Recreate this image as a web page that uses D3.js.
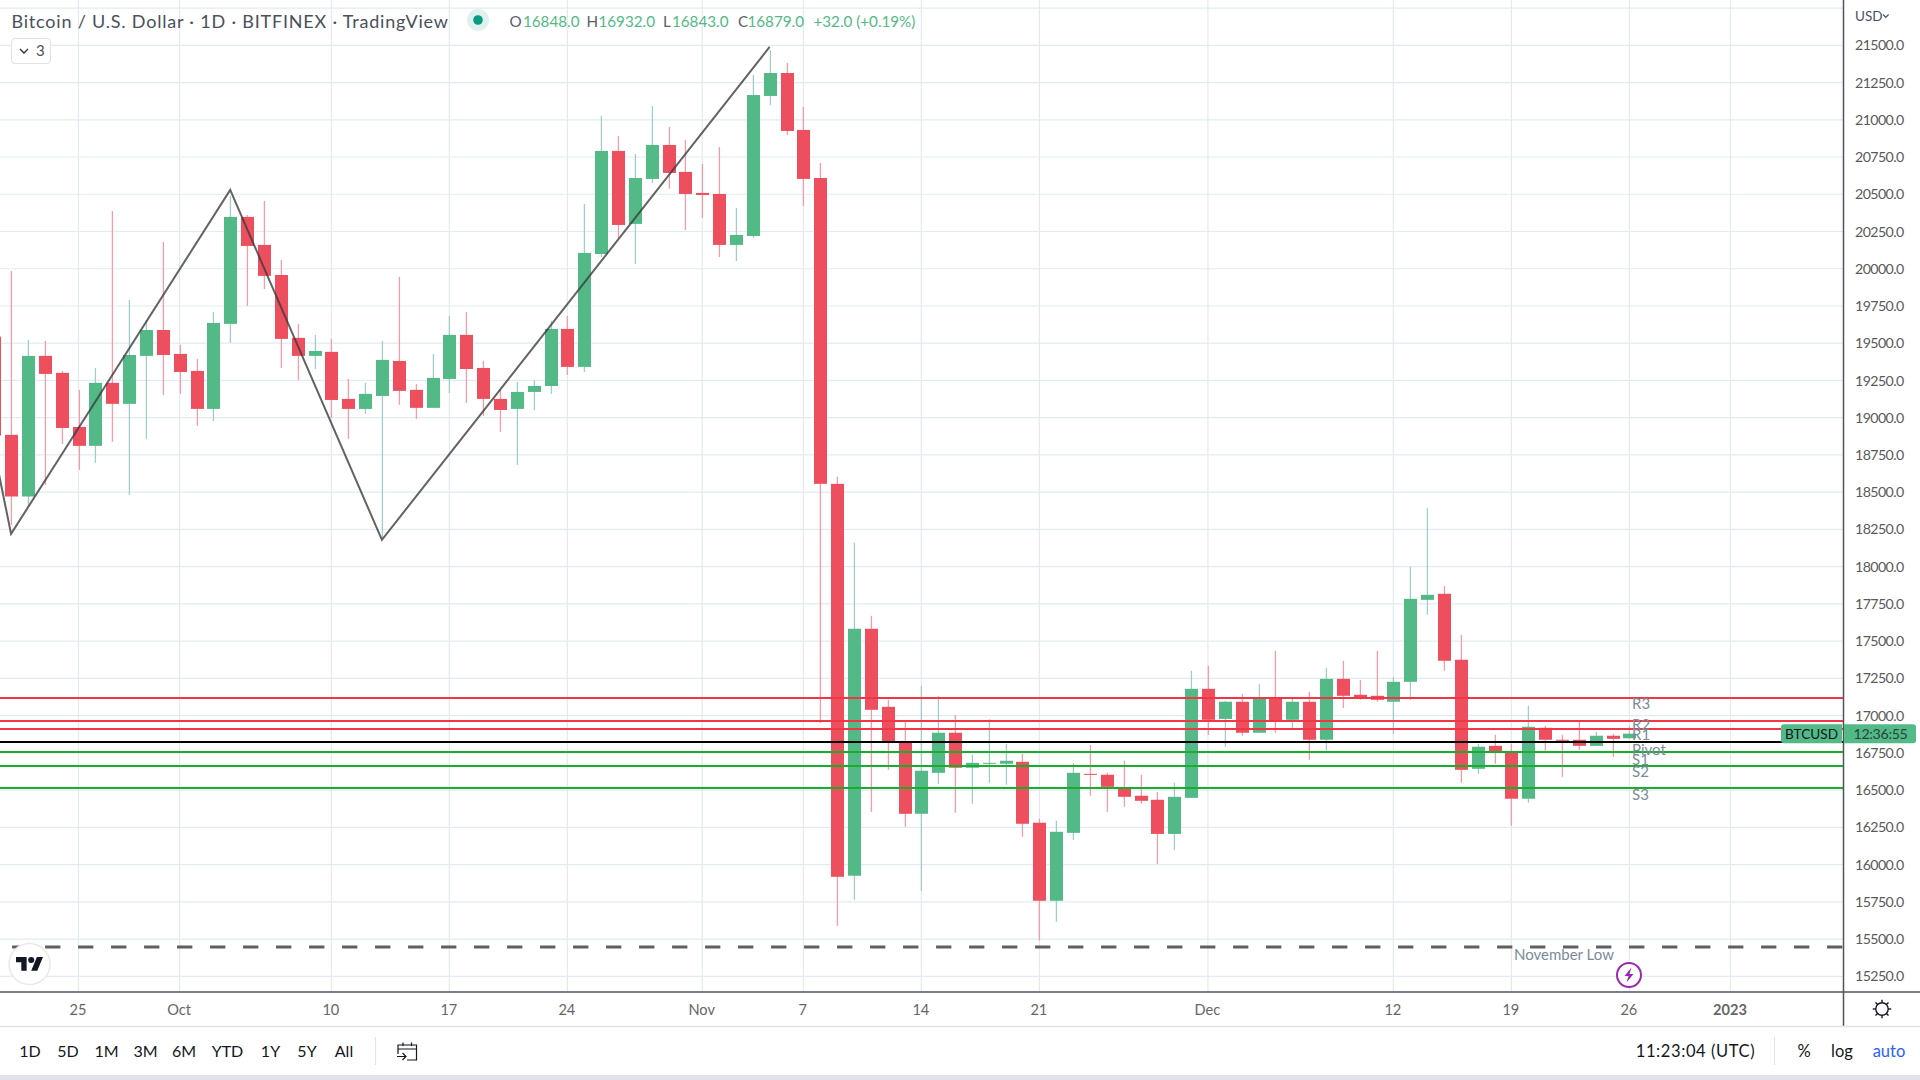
<!DOCTYPE html>
<html>
<head>
<meta charset="utf-8">
<title>BTCUSD daily</title>
<script src="https://cdnjs.cloudflare.com/ajax/libs/d3/7.8.5/d3.min.js"></script>
<style>
  html, body { margin: 0; padding: 0; background: #fff; overflow: hidden; }
  svg { display: block; }
  text { font-family: Lato, "Open Sans", sans-serif; }
</style>
</head>
<body>
<svg id="chart" width="1920" height="1080"></svg>
<script>
// Daily BTC/USD candles, one entry per day starting at firstDay
const firstDay = "2022-09-20";
const opens = [19544,18885,18471,19415,19301,18938,18811,19234,19093,19415,19589,19428,19314,19059,19630,20348,20160,19958,19536,19415,19442,19126,19059,19146,19381,19187,19066,19260,19556,19334,19126,19059,19173,19213,19596,19341,20099,20791,20301,20603,20831,20650,20509,20502,20160,20220,21160,21314,20932,20609,18556,15925,17583,17059,16817,16341,16616,16885,16650,16677,16677,16690,16281,15757,16213,16609,16603,16515,16462,16435,16206,16448,17180,16978,17093,16885,17120,16972,17093,16838,17247,17140,17133,17093,17227,17777,17818,17375,16643,16797,16757,16442,16918,16838,16838,16797,16865,16848];
const highs = [19544,19985,19522,19515,19314,19187,19334,20388,19791,19656,20180,19489,19395,19710,20489,20361,20455,20059,19630,19556,19529,19260,19234,19515,19945,19227,19428,19683,19710,19381,19187,19240,19250,19650,19683,20435,21025,20891,20770,21093,20952,20864,20703,20817,20408,21301,21468,21381,21086,20710,18603,18160,17670,17106,16965,17200,17133,17005,16737,16978,16811,16744,16307,16294,16683,16804,16616,16697,16603,16488,16549,17301,17334,17099,17146,17213,17435,17113,17160,17321,17368,17240,17435,17260,17999,18395,17871,17542,16811,16871,16811,17066,16931,16871,16965,16891,16878,16932];
const lows = [18853,18280,18408,18549,18824,18650,18697,18838,18482,18858,19153,19160,18945,18978,19502,19750,19864,19334,19254,19327,18999,18858,19025,18193,19086,18992,19066,19166,19099,19012,18905,18683,19052,19160,19287,19307,20079,20207,20032,20576,20536,20260,20341,20079,20052,20207,21099,20898,20421,16951,15589,15764,16354,16636,16254,15824,16542,16348,16408,16549,16536,16186,15489,15616,16166,16462,16354,16388,16408,16005,16099,16448,16871,16791,16865,16885,16885,16911,16703,16764,17052,17106,17093,16878,17106,17677,17301,16549,16609,16677,16260,16415,16764,16589,16770,16797,16723,16843];
const closes = [18880,18471,19415,19294,18931,18811,19234,19093,19421,19589,19421,19307,19059,19636,20348,20153,19952,19529,19415,19448,19119,19059,19160,19388,19180,19066,19267,19556,19327,19126,19052,19173,19213,19596,19341,20106,20791,20294,20609,20831,20643,20502,20495,20160,20227,21166,21314,20925,20603,18556,15918,17583,17039,16824,16341,16630,16885,16650,16683,16683,16697,16274,15757,16220,16616,16603,16522,16455,16428,16206,16455,17180,16972,17093,16885,17113,16965,17093,16838,17247,17133,17120,17106,17227,17784,17811,17368,16636,16791,16757,16442,16925,16838,16831,16797,16865,16844,16879];

// Floor pivot levels and their captions
const pivotNames = ["R3","R2","R1","Pivot","S1","S2","S3"];
const pivotLevels = [17121,16967,16907,16822,16759,16665,16517];

// Zigzag drawn over the candles
const zigzagDays = ["2022-09-20","2022-09-21","2022-10-04","2022-10-13","2022-11-05"];
const zigzagPrices = [18777,18220,20529,18180,21489];

const novemberLow = 15448;
const novemberLowCaption = "November Low";

const priceTicks = [15250,15500,15750,16000,16250,16500,16750,17000,17250,17500,17750,18000,18250,18500,18750,19000,19250,19500,19750,20000,20250,20500,20750,21000,21250,21500];
const gridPrices = priceTicks.concat([21750]);
const timeTickDays = ["2022-09-25","2022-10-01","2022-10-10","2022-10-17","2022-10-24","2022-11-01","2022-11-07","2022-11-14","2022-11-21","2022-12-01","2022-12-12","2022-12-19","2022-12-26","2023-01-01"];
const timeTickLabels = ["25","Oct","10","17","24","Nov","7","14","21","Dec","12","19","26","2023"];

const rangeButtons = ["1D","5D","1M","3M","6M","YTD","1Y","5Y","All"];
const legendValues = ["16848.0","16932.0","16843.0","16879.0"];
const legendLetters = ["O","H","L","C"];
const legendChange = "+32.0 (+0.19%)";
const titleText = "Bitcoin / U.S. Dollar \u00b7 1D \u00b7 BITFINEX \u00b7 TradingView";

const UP = "#53b987", DOWN = "#ed4f5f", UP_WICK = "#a0cdcc", DOWN_WICK = "#f59ca8";
const GRID = "#e2ebf1", AXIS = "#50535e", SEPARATOR = "#e0e3eb", MUTED = "#7b8b9a", INK = "#131722";
const paneRight = 1843, paneBottom = 992;

const day = s => new Date(s + "T00:00:00Z");
const x = d3.scaleUtc().domain([day("2022-09-25"), day("2023-01-01")]).range([78.5, 1730.5]);
const y = d3.scaleLinear().domain([15250, 21500]).range([976.3, 45.3]);

const candleDays = d3.utcDay.range(day(firstDay), d3.utcDay.offset(day(firstDay), opens.length));
const candles = candleDays.map((d, i) => ({ d, o: opens[i], h: highs[i], l: lows[i], c: closes[i], up: closes[i] >= opens[i] }));

const svg = d3.select("#chart");
svg.append("rect").attr("width", 1920).attr("height", 1080).attr("fill", "#fff");
svg.append("defs").append("clipPath").attr("id", "pane")
  .append("rect").attr("width", paneRight).attr("height", paneBottom);

const pane = svg.append("g").attr("clip-path", "url(#pane)");

// Grid
pane.append("g").selectAll("line").data(gridPrices).join("line")
  .attr("x1", 0).attr("x2", paneRight)
  .attr("y1", d => y(d)).attr("y2", d => y(d))
  .attr("stroke", GRID).attr("stroke-width", 1.2);
pane.append("g").selectAll("line").data(timeTickDays).join("line")
  .attr("x1", d => x(day(d))).attr("x2", d => x(day(d)))
  .attr("y1", 0).attr("y2", paneBottom)
  .attr("stroke", GRID).attr("stroke-width", 1.2);

// Candles
const cx = d => Math.round(x(d));
pane.append("g").selectAll("line").data(candles).join("line")
  .attr("x1", d => cx(d.d) + 0.4).attr("x2", d => cx(d.d) + 0.4)
  .attr("y1", d => y(d.h)).attr("y2", d => y(d.l))
  .attr("stroke", d => d.up ? UP_WICK : DOWN_WICK).attr("stroke-width", 1.3);
pane.append("g").selectAll("rect").data(candles).join("rect")
  .attr("x", d => cx(d.d) - 6).attr("width", 13)
  .attr("y", d => y(Math.max(d.o, d.c)))
  .attr("height", d => Math.max(1, Math.abs(y(d.o) - y(d.c))))
  .attr("fill", d => d.up ? UP : DOWN);

// Zigzag
pane.append("path")
  .datum(zigzagDays.map((d, i) => [x(day(d)), y(zigzagPrices[i])]))
  .attr("d", d3.line())
  .attr("fill", "none").attr("stroke", "#3c3c3c").attr("stroke-opacity", 0.8).attr("stroke-width", 2);

// Pivot levels, snapped to whole pixels so the rules stay crisp
const pivotColor = n => n[0] === "R" ? "#f23645" : n[0] === "S" ? "#1aad2c" : "#000";
const levelY = i => Math.round(y(pivotLevels[i]));
pane.append("g").selectAll("line").data(pivotNames).join("line")
  .attr("x1", 0).attr("x2", paneRight)
  .attr("y1", (n, i) => levelY(i)).attr("y2", (n, i) => levelY(i))
  .attr("stroke", pivotColor).attr("stroke-width", 2.2);
const captionDrop = [6, 4, 5, 7, 8, 6, 7];
pane.append("g").selectAll("text").data(pivotNames).join("text")
  .attr("x", 1632).attr("y", (n, i) => y(pivotLevels[i]) + captionDrop[i])
  .attr("dy", "0.36em").attr("font-size", 15).attr("fill", MUTED).text(n => n);

// November low
pane.append("line")
  .attr("x1", x(day("2022-09-21")) + 1).attr("x2", paneRight)
  .attr("y1", Math.round(y(novemberLow))).attr("y2", Math.round(y(novemberLow)))
  .attr("stroke", "#5f5f5f").attr("stroke-width", 3).attr("stroke-dasharray", "15.3 17.7");
pane.append("text").attr("x", 1514).attr("y", y(novemberLow) + 8).attr("dy", "0.36em")
  .attr("font-size", 15).attr("fill", MUTED).text(novemberLowCaption);

// Logo badge
const logo = svg.append("g").attr("transform", "translate(29.5,964)");
logo.append("circle").attr("r", 20.5).attr("fill", "#fff").attr("stroke", "#e9e9e9").attr("stroke-width", 1.5);
const logoMark = logo.append("g").attr("transform", "translate(-13.5,-10) scale(0.76)").attr("fill", INK);
logoMark.append("path").attr("d", "M14 22H7V11H0V4h14v18zM28 22h-8l7.5-18h8L28 22z");
logoMark.append("circle").attr("cx", 20).attr("cy", 8).attr("r", 4);

// Lightning marker
const bolt = svg.append("g").attr("transform", "translate(1629,975)");
bolt.append("circle").attr("r", 12).attr("fill", "#fff").attr("stroke", "#9c27b0").attr("stroke-width", 2);
bolt.append("path").attr("d", "M2.5 -7.5 L-4.5 1 H-0.5 L-2.5 7.5 L4.5 -1 H0.5 Z").attr("fill", "#9c27b0");

// Scale frames
svg.append("line").attr("x1", 0).attr("x2", 1920).attr("y1", paneBottom).attr("y2", paneBottom).attr("stroke", AXIS).attr("stroke-width", 1.5);
svg.append("line").attr("x1", paneRight + 0.5).attr("x2", paneRight + 0.5).attr("y1", 0).attr("y2", 1026).attr("stroke", AXIS).attr("stroke-width", 1.5);
svg.append("line").attr("x1", 0).attr("x2", 1920).attr("y1", 1026.5).attr("y2", 1026.5).attr("stroke", SEPARATOR).attr("stroke-width", 1.5);
svg.append("rect").attr("y", 1075).attr("width", 1920).attr("height", 5).attr("fill", SEPARATOR);

// Price axis
const priceAxis = d3.axisRight(y).tickValues(priceTicks).tickSize(0).tickPadding(0).tickFormat(d3.format(".1f"));
const priceG = svg.append("g").attr("transform", "translate(1855,0)").call(priceAxis);
priceG.select(".domain").remove();
priceG.selectAll("text").attr("font-size", 14.2).attr("letter-spacing", -0.6).attr("fill", "#5a5a5a").style("font-family", "Lato");

// Time axis
const timeAxis = d3.axisBottom(x).tickValues(timeTickDays.map(day)).tickSize(0).tickPadding(0)
  .tickFormat((d, i) => timeTickLabels[i]);
const timeG = svg.append("g").attr("transform", "translate(-1,1004.5)").call(timeAxis);
timeG.select(".domain").remove();
timeG.selectAll("text").attr("font-size", 14.6).attr("fill", "#666").style("font-family", "Lato")
  .attr("font-weight", (d, i) => timeTickLabels[i] === "2023" ? 700 : 400);

// Last-price tags
const lastY = y(closes[closes.length - 1]);
const tagTop = lastY - 9.5, tagH = 19;
svg.append("path")
  .attr("d", `M${paneRight - 1} ${tagTop} H1784 a3 3 0 0 0 -3 3 V${tagTop + tagH - 3} a3 3 0 0 0 3 3 H${paneRight - 1} Z`)
  .attr("fill", UP);
svg.append("path")
  .attr("d", `M${paneRight + 1} ${tagTop} H1913 a3 3 0 0 1 3 3 V${tagTop + tagH - 3} a3 3 0 0 1 -3 3 H${paneRight + 1} Z`)
  .attr("fill", UP);
svg.append("text").attr("x", 1811.5).attr("y", lastY + 0.5).attr("dy", "0.36em").attr("text-anchor", "middle")
  .attr("font-size", 13.6).attr("fill", INK).text("BTCUSD");
svg.append("text").attr("x", 1880.5).attr("y", lastY + 0.5).attr("dy", "0.36em").attr("text-anchor", "middle")
  .attr("font-size", 14.2).attr("letter-spacing", -0.3).attr("fill", "#24463a").text("12:36:55");

// Currency selector
svg.append("text").attr("x", 1855).attr("y", 16).attr("dy", "0.36em").attr("font-size", 13.5).attr("fill", "#4a5060").text("USD");
svg.append("path").attr("d", "M1883 14.5 l2.8 2.8 l2.8 -2.8").attr("fill", "none").attr("stroke", "#4a5060").attr("stroke-width", 1.2);

// Title row
svg.append("text").attr("x", 11.5).attr("y", 21.5).attr("dy", "0.36em").attr("font-size", 18).attr("letter-spacing", 0.8).attr("fill", "#4b505c").text(titleText);
svg.append("circle").attr("cx", 478).attr("cy", 20).attr("r", 11).attr("fill", "#dff1ee");
svg.append("circle").attr("cx", 478).attr("cy", 20).attr("r", 4.8).attr("fill", "#0a9a82");

const letterX = [509.5, 586.5, 663, 738], valueX = [523, 598.5, 672, 747.5];
const legend = svg.append("g").attr("font-size", 15.2);
legend.selectAll("text.l").data(legendLetters).join("text").attr("class", "l")
  .attr("x", (d, i) => letterX[i]).attr("y", 21.5).attr("dy", "0.36em").attr("fill", "#5b6068").text(d => d);
legend.selectAll("text.v").data(legendValues).join("text").attr("class", "v")
  .attr("x", (d, i) => valueX[i]).attr("y", 21.5).attr("dy", "0.36em").attr("fill", UP).text(d => d);
legend.append("text").attr("x", 813.5).attr("y", 21.5).attr("dy", "0.36em").attr("fill", UP).text(legendChange);

// Collapsed indicator counter
svg.append("rect").attr("x", 11.5).attr("y", 38.5).attr("width", 39).attr("height", 25).attr("rx", 4)
  .attr("fill", "#fff").attr("stroke", SEPARATOR).attr("stroke-width", 1.2);
svg.append("path").attr("d", "M20 49 l4 4 l4 -4").attr("fill", "none").attr("stroke", "#333").attr("stroke-width", 1.4);
svg.append("text").attr("x", 36).attr("y", 51).attr("dy", "0.36em").attr("font-size", 15).attr("fill", "#4b505c").text("3");

// Range buttons
const buttonCenters = [30, 68, 106.5, 145.5, 184, 227.5, 270.5, 307, 344];
svg.append("g").selectAll("text").data(rangeButtons).join("text")
  .attr("x", (d, i) => buttonCenters[i]).attr("y", 1051).attr("dy", "0.36em").attr("text-anchor", "middle")
  .attr("font-size", 16).attr("fill", INK).text(d => d);
svg.append("line").attr("x1", 375.5).attr("x2", 375.5).attr("y1", 1037).attr("y2", 1065).attr("stroke", SEPARATOR).attr("stroke-width", 1.2);
svg.append("path")
  .attr("d", "M398 1054 V1045 H416.5 V1060 H407 M398 1049 H416.5 M403 1042.5 V1046 M411.5 1042.5 V1046 M397 1056.5 H406 M402.5 1053 L406 1056.5 L402.5 1060")
  .attr("fill", "none").attr("stroke", INK).attr("stroke-width", 1.2);

// Status strip
svg.append("text").attr("x", 1695.5).attr("y", 1051).attr("dy", "0.36em").attr("text-anchor", "middle").attr("font-size", 16.5).attr("letter-spacing", 0.6).attr("fill", INK).text("11:23:04 (UTC)");
svg.append("line").attr("x1", 1774.5).attr("x2", 1774.5).attr("y1", 1037).attr("y2", 1065).attr("stroke", SEPARATOR).attr("stroke-width", 1.2);
svg.append("text").attr("x", 1804).attr("y", 1051).attr("dy", "0.36em").attr("text-anchor", "middle").attr("font-size", 16.5).attr("fill", INK).text("%");
svg.append("text").attr("x", 1842).attr("y", 1051).attr("dy", "0.36em").attr("text-anchor", "middle").attr("font-size", 16.5).attr("fill", INK).text("log");
svg.append("text").attr("x", 1889).attr("y", 1051).attr("dy", "0.36em").attr("text-anchor", "middle").attr("font-size", 16.5).attr("fill", "#2962ff").text("auto");

// Settings gear
const gear = svg.append("g").attr("transform", "translate(1882,1009)").attr("fill", "none").attr("stroke", INK).attr("stroke-width", 1.4);
gear.append("circle").attr("r", 6.2);
d3.range(0, 360, 45).forEach(a => {
  const r = a * Math.PI / 180;
  gear.append("line").attr("x1", 6.2 * Math.cos(r)).attr("y1", 6.2 * Math.sin(r))
    .attr("x2", 9.2 * Math.cos(r)).attr("y2", 9.2 * Math.sin(r));
});
</script>
</body>
</html>
